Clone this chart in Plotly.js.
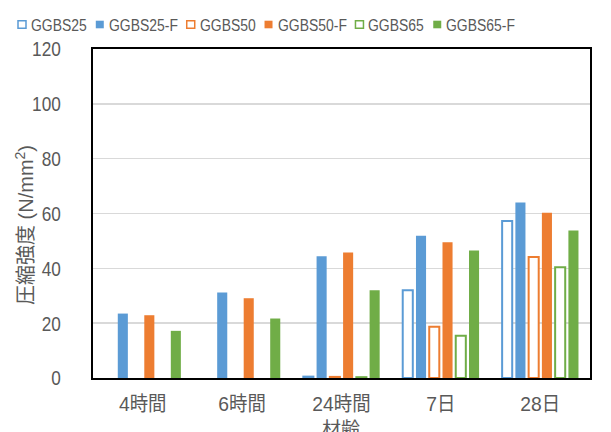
<!DOCTYPE html>
<html>
<head>
<meta charset="utf-8">
<script src="https://cdn.plot.ly/plotly-3.0.1.min.js"></script>
<style>
  html, body { margin: 0; padding: 0; background: #fff; }
  #chart { width: 611px; height: 432px; }
</style>
</head>
<body>
<div id="chart"></div>
<script>
// Compressive strength by curing age
const ages = ['4時間', '6時間', '24時間', '7日', '28日'];
const seriesNames = ['GGBS25', 'GGBS25-F', 'GGBS50', 'GGBS50-F', 'GGBS65', 'GGBS65-F'];

const ggbs25  = [null, null, 0.5, 32.0, 57.3];
const ggbs25F = [23.5, 31.2, 44.4, 51.9, 64.0];
const ggbs50  = [null, null, 0.4, 18.7, 44.1];
const ggbs50F = [22.9, 29.1, 45.8, 49.5, 60.3];
const ggbs65  = [null, null, 0.3, 15.4, 40.4];
const ggbs65F = [17.2, 21.7, 32.0, 46.5, 53.8];

const yTicks = [0, 20, 40, 60, 80, 100, 120];

const xTitle = '材齢';
const yTitle = '圧縮強度 (N/mm<sup>2</sup>)';

const seriesValues = [ggbs25, ggbs25F, ggbs50, ggbs50F, ggbs65, ggbs65F];
const seriesColors = ['#5B9BD5', '#5B9BD5', '#ED7D31', '#ED7D31', '#70AD47', '#70AD47'];
const seriesHollow = [true, false, true, false, true, false];

const FONT = '"Liberation Sans", "Noto Sans CJK JP", sans-serif';
const CJK = '"Noto Sans CJK JP", sans-serif';
const TEXT = '#595959';
const NARROW = 0.82;   // horizontal squeeze giving a narrow face

// Set CJK characters in their own size next to the Latin digits
const cjkSized = (s, px) =>
  s.replace(/([\u3000-\u9fff]+)/g, '<span style="font-size:' + px + 'px">$1</span>');

const traces = seriesNames.map((name, i) => ({
  type: 'bar',
  name: name,
  x: ages,
  y: seriesValues[i],
  marker: {
    color: seriesHollow[i] ? '#ffffff' : seriesColors[i],
    line: { color: seriesColors[i], width: seriesHollow[i] ? 2 : 0 }
  },
  showlegend: false,
  hoverinfo: 'x+y+name'
}));

// Plot area in pixels
const W = 611, H = 432;
const M = { l: 93, r: 21, t: 49, b: 54 };
const pw = W - M.l - M.r, ph = H - M.t - M.b;
const px2x = px => (px - M.l) / pw;
const px2y = py => (H - M.b - py) / ph;

// Legend drawn as a single row across the top
const legendFontSize = 17;
const ctx = document.createElement('canvas').getContext('2d');
ctx.font = legendFontSize + 'px ' + FONT;
const shapes = [];
const annotations = [];
let cursor = 18;
seriesNames.forEach((name, i) => {
  shapes.push({
    type: 'rect', xref: 'paper', yref: 'paper',
    x0: px2x(cursor), x1: px2x(cursor + 8),
    y0: px2y(28.3), y1: px2y(20.7),
    fillcolor: seriesHollow[i] ? '#ffffff' : seriesColors[i],
    line: { color: seriesColors[i], width: seriesHollow[i] ? 1.5 : 0 }
  });
  const tw = ctx.measureText(name).width * NARROW;
  annotations.push({
    text: name, showarrow: false,
    xref: 'paper', yref: 'paper',
    x: px2x(cursor + 11), y: px2y(25.5),
    xanchor: 'left', yanchor: 'middle',
    font: { family: FONT, size: legendFontSize, color: TEXT }
  });
  cursor += 11 + tw + 11;
});

// Axis titles
annotations.push({
  text: cjkSized(yTitle, 20), showarrow: false, textangle: -90,
  xref: 'paper', yref: 'paper',
  x: px2x(24), y: px2y(225), xanchor: 'center', yanchor: 'middle',
  font: { family: FONT, size: 20, color: TEXT }
});
annotations.push({
  text: xTitle, showarrow: false,
  xref: 'paper', yref: 'paper',
  x: px2x(341), y: px2y(427), xanchor: 'center', yanchor: 'middle',
  font: { family: CJK, size: 19, color: TEXT }
});

const layout = {
  width: W, height: H,
  margin: M,
  paper_bgcolor: '#ffffff',
  plot_bgcolor: '#ffffff',
  barmode: 'group',
  bargap: 0.2,
  bargroupgap: 0.24,
  font: { family: FONT, color: TEXT },
  xaxis: {
    showline: true, mirror: true, linecolor: '#000000', linewidth: 2,
    ticks: '', ticklabelstandoff: 6,
    tickvals: ages,
    ticktext: ages.map(a => cjkSized(a, 20)),
    tickfont: { family: FONT, size: 21, color: TEXT }
  },
  yaxis: {
    range: [0, 120],
    tickvals: yTicks,
    showline: true, mirror: true, linecolor: '#000000', linewidth: 2,
    showgrid: true, gridcolor: '#d9d9d9', gridwidth: 1.5,
    zeroline: false,
    ticks: '', ticklabelstandoff: 26,
    tickfont: { family: FONT, size: 21, color: TEXT }
  },
  shapes: shapes,
  annotations: annotations
};

// Squeeze tick labels horizontally to a narrow face (anchor kept in place)
function squeeze(selector, factor) {
  document.querySelectorAll(selector).forEach(t => {
    const w = t.getComputedTextLength();
    if (w > 0) {
      t.setAttribute('textLength', (w * factor).toFixed(2));
      t.setAttribute('lengthAdjust', 'spacingAndGlyphs');
    }
  });
}

// Squeeze a text element horizontally, keeping its left edge fixed
function squeezeLeft(el, factor) {
  const bb = el.getBBox();
  const prev = el.getAttribute('transform') || '';
  el.setAttribute('transform',
    (prev + ' translate(' + (bb.x * (1 - factor)).toFixed(2) + ',0) scale(' + factor + ',1)').trim());
}

Plotly.newPlot('chart', traces, layout, { displayModeBar: false, staticPlot: true })
  .then(() => {
    squeeze('.ytick text', NARROW);
    squeeze('.xtick text', 0.92);
    document.querySelectorAll('.annotation').forEach(g => {
      const idx = +g.getAttribute('data-index');
      if (idx < seriesNames.length) {
        const t = g.querySelector('text');
        if (t) squeezeLeft(t, NARROW);
      }
    });
  });
</script>
</body>
</html>
